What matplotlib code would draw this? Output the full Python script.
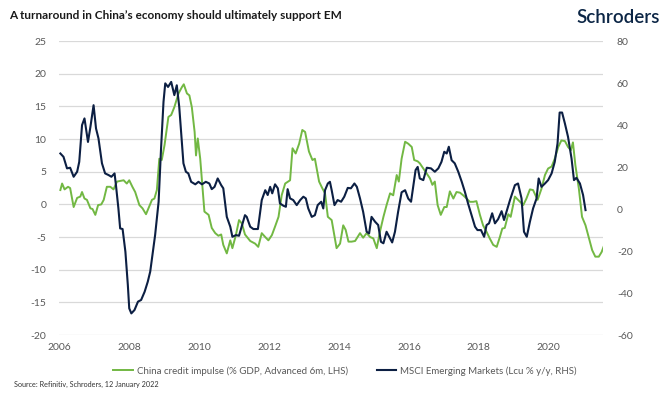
"""
    plot.py
        -- China credit impulse vs MSCI EM returns
"""
import matplotlib.pyplot as plt

# China credit impulse (% GDP, advanced 6m), LHS
credit_years = [
    2006.03, 2006.08, 2006.15, 2006.25, 2006.31, 2006.41, 2006.51, 2006.60, 2006.65, 2006.72,
    2006.79, 2006.89, 2006.95, 2007.03, 2007.11, 2007.20, 2007.27, 2007.36, 2007.46, 2007.55,
    2007.65, 2007.74, 2007.84, 2007.93, 2008.00, 2008.09, 2008.17, 2008.29, 2008.38, 2008.48,
    2008.55, 2008.65, 2008.72, 2008.79, 2008.86, 2008.93, 2009.01, 2009.12, 2009.20, 2009.29,
    2009.41, 2009.51, 2009.56, 2009.65, 2009.72, 2009.79, 2009.87, 2009.91, 2009.96, 2010.03,
    2010.09, 2010.15, 2010.27, 2010.36, 2010.46, 2010.55, 2010.63, 2010.69, 2010.79, 2010.89,
    2010.95, 2011.05, 2011.14, 2011.22, 2011.31, 2011.46, 2011.60, 2011.69, 2011.79, 2011.89,
    2011.98, 2012.08, 2012.17, 2012.27, 2012.36, 2012.46, 2012.60, 2012.67, 2012.76, 2012.86,
    2012.95, 2013.03, 2013.14, 2013.24, 2013.31, 2013.43, 2013.52, 2013.60, 2013.68, 2013.79,
    2013.93, 2014.03, 2014.12, 2014.19, 2014.27, 2014.36, 2014.46, 2014.60, 2014.69, 2014.79,
    2014.89, 2014.98, 2015.08, 2015.17, 2015.27, 2015.36, 2015.46, 2015.55, 2015.65, 2015.71,
    2015.79, 2015.89, 2015.98, 2016.08, 2016.15, 2016.25, 2016.31, 2016.41, 2016.51, 2016.60,
    2016.67, 2016.74, 2016.82, 2016.91, 2017.01, 2017.08, 2017.17, 2017.27, 2017.36, 2017.46,
    2017.55, 2017.65, 2017.74, 2017.84, 2017.93, 2018.03, 2018.12, 2018.22, 2018.31, 2018.41,
    2018.51, 2018.60, 2018.67, 2018.74, 2018.84, 2018.91, 2019.03, 2019.12, 2019.27, 2019.36,
    2019.46, 2019.55, 2019.68, 2019.79, 2019.89, 2019.98, 2020.08, 2020.17, 2020.27, 2020.36,
    2020.46, 2020.55, 2020.63, 2020.69, 2020.76, 2020.86, 2020.95, 2021.05, 2021.14, 2021.24,
    2021.33, 2021.43, 2021.51, 2021.58,
]
credit_impulse = [
    2.2, 3.2, 2.3, 2.7, 2.5, -0.4, 1.0, 1.2, 1.9, 0.9,
    0.7, -0.6, -0.7, -1.6, -0.1, 0.0, 0.7, 2.7, 2.7, 2.3,
    3.5, 3.6, 3.7, 3.2, 3.7, 2.7, 1.9, -0.1, -0.6, -1.5,
    -0.6, 0.7, 0.9, 2.2, 7.0, 6.8, 9.1, 13.4, 13.7, 14.9,
    17.0, 18.0, 18.4, 17.0, 16.7, 14.9, 11.1, 7.5, 10.1, 7.0,
    3.0, -1.1, -1.6, -3.6, -4.4, -4.8, -4.6, -6.2, -7.5, -5.5,
    -6.7, -4.7, -2.4, -2.9, -4.6, -5.6, -6.0, -6.5, -4.4, -5.0,
    -5.5, -4.7, -3.4, -1.9, 1.4, 3.2, 3.7, 8.6, 7.8, 9.3,
    11.4, 11.1, 8.1, 6.8, 7.0, 3.5, 2.5, 1.7, -1.9, -2.4,
    -6.7, -6.0, -3.2, -3.9, -5.7, -5.7, -5.6, -4.4, -5.1, -4.4,
    -5.0, -5.2, -6.7, -4.2, -1.9, -0.1, 1.7, 1.4, 4.5, 3.5,
    7.0, 9.6, 9.3, 8.8, 6.8, 6.6, 6.3, 5.5, 4.7, 4.0,
    3.0, 3.5, -0.1, -1.6, -0.4, -0.4, 2.0, 0.9, 1.9, 1.8,
    1.4, 0.9, 0.4, 0.4, 0.5, -1.6, -3.2, -4.2, -5.2, -6.2,
    -6.5, -5.0, -3.7, -3.6, -1.5, -1.9, 1.2, 0.7, -0.1, 0.9,
    2.3, 2.2, 0.7, 2.4, 4.5, 5.5, 5.8, 7.0, 8.8, 9.8,
    9.7, 8.8, 8.3, 9.5, 6.0, 2.4, -1.9, -3.2, -5.0, -7.0,
    -8.0, -8.0, -7.3, -6.3,
]

# MSCI Emerging Markets (Lcu % y/y), RHS
msci_years = [
    2006.03, 2006.12, 2006.22, 2006.31, 2006.41, 2006.51, 2006.57, 2006.65, 2006.72, 2006.82,
    2006.89, 2006.98, 2007.05, 2007.12, 2007.22, 2007.31, 2007.41, 2007.49, 2007.58, 2007.62,
    2007.69, 2007.74, 2007.81, 2007.89, 2007.96, 2008.00, 2008.06, 2008.15, 2008.25, 2008.34,
    2008.44, 2008.53, 2008.60, 2008.65, 2008.74, 2008.84, 2008.91, 2008.98, 2009.03, 2009.11,
    2009.20, 2009.29, 2009.36, 2009.43, 2009.49, 2009.55, 2009.62, 2009.69, 2009.77, 2009.89,
    2009.98, 2010.08, 2010.19, 2010.29, 2010.36, 2010.44, 2010.53, 2010.63, 2010.69, 2010.79,
    2010.89, 2010.95, 2011.05, 2011.14, 2011.22, 2011.31, 2011.36, 2011.46, 2011.55, 2011.68,
    2011.79, 2011.89, 2011.96, 2012.03, 2012.09, 2012.17, 2012.25, 2012.31, 2012.41, 2012.48,
    2012.53, 2012.60, 2012.69, 2012.79, 2012.89, 2012.98, 2013.05, 2013.12, 2013.22, 2013.31,
    2013.39, 2013.49, 2013.55, 2013.60, 2013.68, 2013.74, 2013.79, 2013.87, 2013.96, 2014.06,
    2014.15, 2014.25, 2014.34, 2014.44, 2014.51, 2014.60, 2014.69, 2014.79, 2014.86, 2014.93,
    2015.03, 2015.12, 2015.20, 2015.27, 2015.36, 2015.46, 2015.52, 2015.60, 2015.69, 2015.79,
    2015.89, 2015.98, 2016.06, 2016.19, 2016.25, 2016.31, 2016.41, 2016.51, 2016.63, 2016.74,
    2016.84, 2016.93, 2017.01, 2017.08, 2017.14, 2017.22, 2017.31, 2017.41, 2017.51, 2017.60,
    2017.69, 2017.79, 2017.89, 2017.96, 2018.06, 2018.15, 2018.22, 2018.29, 2018.38, 2018.46,
    2018.55, 2018.65, 2018.72, 2018.82, 2018.89, 2019.03, 2019.12, 2019.22, 2019.29, 2019.37,
    2019.46, 2019.55, 2019.65, 2019.71, 2019.79, 2019.89, 2019.98, 2020.08, 2020.17, 2020.25,
    2020.31, 2020.38, 2020.46, 2020.55, 2020.65, 2020.72, 2020.79, 2020.89, 2020.98, 2021.05,
]
msci_em = [
    26.5, 24.9, 19.4, 19.7, 15.4, 17.8, 22.5, 40.0, 43.2, 32.0,
    39.2, 49.5, 38.4, 33.7, 21.8, 17.0, 16.2, 15.4, 17.0, 11.4,
    0.3, -9.2, -9.5, -20.3, -36.2, -47.3, -49.7, -48.1, -44.1, -43.3,
    -39.4, -34.6, -29.8, -23.5, -12.4, 3.5, 28.9, 51.1, 59.9, 58.2,
    60.6, 54.3, 59.0, 48.7, 35.2, 21.8, 17.8, 17.0, 13.0, 11.8,
    13.0, 11.8, 13.0, 12.2, 9.5, 10.6, 14.6, 11.4, 9.9, -3.7,
    -8.4, -13.2, -12.4, -12.7, -8.0, -2.9, -3.7, -8.4, -9.5, -9.5,
    4.3, 9.0, 6.7, 10.6, 7.5, 11.8, 9.9, 2.7, 1.6, 1.1,
    9.5, 5.1, 4.3, 1.9, 4.3, 5.9, 5.1, 0.3, -3.7, -2.9,
    1.9, 3.5, 0.3, 9.0, 12.2, 13.0, 9.0, 1.9, 4.3, 3.5,
    5.9, 10.1, 9.9, 12.2, 10.6, 5.1, -1.3, -10.8, -11.6, -3.7,
    -6.0, -7.6, -15.6, -16.3, -10.8, -14.0, -15.9, -10.8, -1.3, 8.0,
    9.0, 5.0, 3.5, 18.6, 20.1, 14.6, 13.8, 19.7, 19.4, 17.8,
    19.4, 22.5, 27.3, 26.5, 29.7, 23.3, 21.8, 17.8, 13.0, 8.2,
    2.7, -2.9, -8.4, -10.0, -10.0, -13.2, -7.6, -6.8, -2.0, -6.8,
    -4.8, -1.0, -5.2, 0.3, 4.3, 11.4, 12.2, 5.1, -10.8, -13.2,
    -6.0, 0.3, 5.1, 14.6, 10.6, 12.2, 13.8, 17.0, 22.5, 31.3,
    46.0, 46.0, 40.8, 34.4, 24.1, 13.8, 14.9, 12.2, 6.7, -0.5,
]

year_ticks = [2006, 2008, 2010, 2012, 2014, 2016, 2018, 2020]
left_ticks = [-20, -15, -10, -5, 0, 5, 10, 15, 20, 25]
right_ticks = [-60, -40, -20, 0, 20, 40, 60, 80]

GREEN = "#72b843"
NAVY = "#0c1f43"
GREY = "#595959"

plt.rcParams["font.family"] = ["Lato", "DejaVu Sans"]

fig = plt.figure(figsize=(6.7, 3.96), dpi=100)
ax = fig.add_axes([0.088, 0.154, 0.812, 0.742])
ax2 = ax.twinx()

(l1,) = ax.plot(credit_years, credit_impulse, color=GREEN, lw=1.4,
                label="China credit impulse (% GDP, Advanced 6m, LHS)")
(l2,) = ax2.plot(msci_years, msci_em, color=NAVY, lw=1.5,
                 label="MSCI Emerging Markets (Lcu % y/y, RHS)")

ax.set_xlim(2005.99, 2021.55)
ax.set_ylim(-20, 25)
ax2.set_ylim(-60, 80)
ax.set_xticks(year_ticks)
ax.set_yticks(left_ticks)
ax2.set_yticks(right_ticks)
ax.set_yticklabels([str(v) for v in left_ticks])
ax2.set_yticklabels([str(v) for v in right_ticks])
ax.grid(axis="y", color="#d9d9d9", lw=0.9)
ax.set_axisbelow(True)

for a in (ax, ax2):
    for s in a.spines.values():
        s.set_visible(False)
    a.tick_params(length=0, labelsize=7.5, colors=GREY)
ax.tick_params(axis="y", pad=9)
ax2.tick_params(axis="y", pad=10)
ax.tick_params(axis="x", pad=6)

fig.text(0.013, 0.962, "A turnaround in China\u2019s economy should ultimately support EM",
         fontsize=8.5, fontweight="bold", color="#1a1a1a", va="center")
fig.text(0.985, 0.957, "Schroders", fontsize=13.5, fontweight="semibold",
         color="#0b2545", ha="right", va="center")

fig.legend(handles=[l1, l2], loc="center", bbox_to_anchor=(0.515, 0.063), ncol=2,
           frameon=False, fontsize=7, handlelength=2.0, handletextpad=0.4,
           columnspacing=3.0, labelcolor=GREY)
fig.text(0.021, 0.028, "Source: Refinitiv, Schroders, 12 January 2022",
         fontsize=5.2, color="#333333", va="center")

fig.savefig("out.png", dpi=100)
